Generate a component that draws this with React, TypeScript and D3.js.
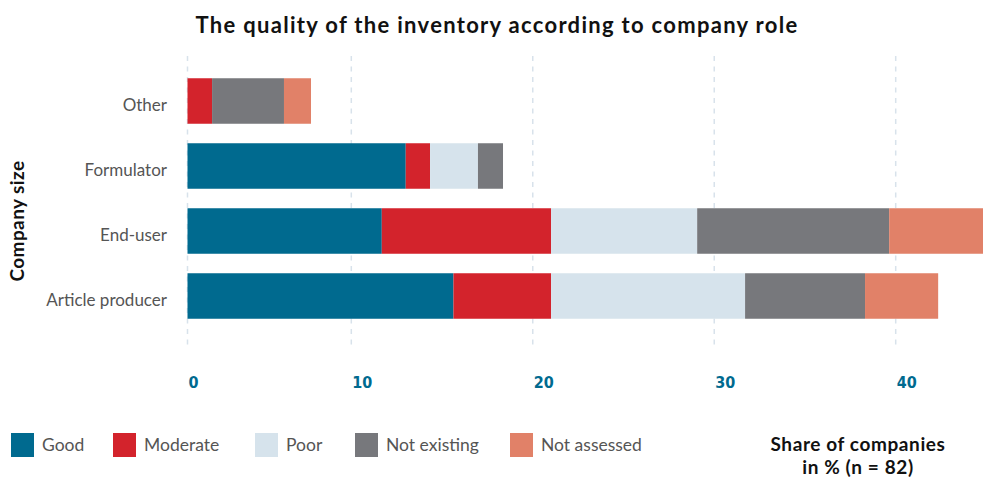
import React from "react";
import * as d3 from "d3";

const roles = ["Other", "Formulator", "End-user", "Article producer"];
const seriesNames = ["Good", "Moderate", "Poor", "Not existing", "Not assessed"];
const good = [0, 13.0, 11.68, 15.63];
const moderate = [1.5, 1.34, 9.33, 5.38];
const poor = [0, 2.64, 8.05, 10.69];
const notExisting = [4.39, 1.38, 10.58, 6.61];
const notAssessed = [1.65, 0, 5.3, 4.03];
const tickValues = [0, 10, 20, 30, 40];
const colors = ["#006a8f", "#d3232c", "#d6e3ec", "#77787c", "#e18168"];

const W = 983;
const H = 477;
const FONT = "Lato, 'Noto Sans', sans-serif";

export default function App() {
  const rows = roles.map((r, i) => ({
    role: r,
    Good: good[i],
    Moderate: moderate[i],
    Poor: poor[i],
    "Not existing": notExisting[i],
    "Not assessed": notAssessed[i],
  }));
  const stacked = d3.stack<any>().keys(seriesNames)(rows);
  const x = d3.scaleLinear().domain([0, 10, 40]).range([187.5, 351.3, 895.7]);
  const y = d3.scaleBand().domain(roles).range([68.5, 328.5]).paddingInner(0.3).paddingOuter(0.15);

  const legendX = [11, 113, 255, 355, 510];

  return (
    <svg width={W} height={H} style={{ position: "absolute", left: 0, top: 0 }} fontFamily={FONT}>
      <text x={497} y={33} textAnchor="middle" fontSize={22} fontWeight={700} fill="#111" letterSpacing={1.3}>
        The quality of the inventory according to company role
      </text>
      {tickValues.map((t) => (
        <line key={t} x1={x(t)} x2={x(t)} y1={56} y2={348} stroke="#d8e2eb" strokeWidth={1.5} strokeDasharray="5,5.5" />
      ))}
      {stacked.map((s, si) => (
        <g key={s.key} fill={colors[si]}>
          {s.map((d, i) => (
            <rect key={i} x={x(d[0])} y={y(roles[i])} width={Math.max(0, x(d[1]) - x(d[0]))} height={y.bandwidth()} />
          ))}
        </g>
      ))}
      {roles.map((r) => (
        <text key={r} x={167} y={(y(r) as number) + y.bandwidth() / 2 + 4} dy="0.35em" textAnchor="end" fontSize={17} fill="#555">
          {r}
        </text>
      ))}
      <text transform="translate(24,221) rotate(-90)" textAnchor="middle" fontSize={19} fontWeight={700} fill="#111" letterSpacing={0.4}>
        Company size
      </text>
      {tickValues.map((t) => (
        <text key={t} x={x(t) + 1} y={388} fontSize={16} fontWeight={700} fill="#006a8f" fontFamily="'DejaVu Sans Condensed', 'DejaVu Sans', sans-serif">
          {t}
        </text>
      ))}
      {seriesNames.map((n, i) => (
        <g key={n}>
          <rect x={legendX[i]} y={433} width={23} height={24} fill={colors[i]} />
          <text x={legendX[i] + 31} y={451} fontSize={17.5} fill="#555">
            {n}
          </text>
        </g>
      ))}
      <text x={858} y={451} textAnchor="middle" fontSize={19} fontWeight={700} fill="#111" letterSpacing={0.6}>
        Share of companies
      </text>
      <text x={858} y={474} textAnchor="middle" fontSize={19} fontWeight={700} fill="#111" letterSpacing={0.6}>
        in % (n = 82)
      </text>
    </svg>
  );
}
